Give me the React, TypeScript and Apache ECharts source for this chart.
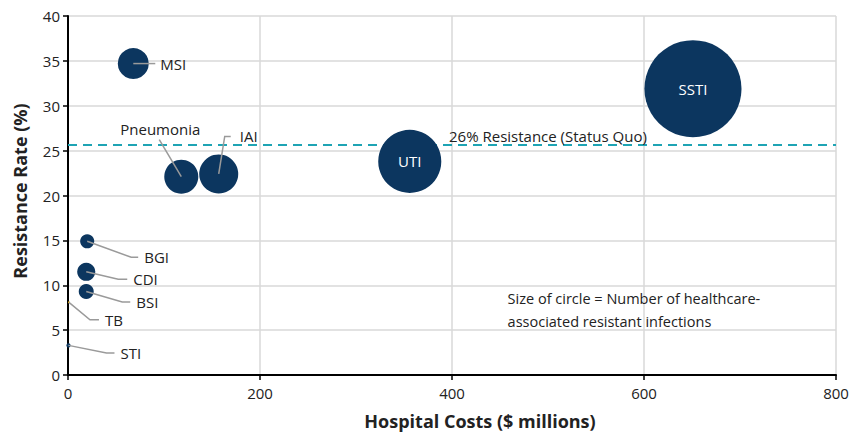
import React, { useEffect, useRef } from "react";
import * as echarts from "echarts";

// ---- data ----
const names = ["MSI", "Pneumonia", "IAI", "UTI", "SSTI", "BGI", "CDI", "BSI", "TB", "STI"];
const hospitalCosts = [68, 118, 157, 356, 651, 20, 19, 19, 1, 0.5];
const resistanceRates = [34.7, 22.1, 22.4, 23.8, 31.9, 14.9, 11.5, 9.3, 8.1, 3.3];
// number of healthcare-associated resistant infections (thousands, estimated)
const infections = [11.1, 13.4, 17.6, 46, 109, 2.3, 3.8, 2.6, 0.05, 0.2];
const statusQuoRate = 25.7;
const statusQuoLabel = "26% Resistance (Status Quo)";
const xTicks = [0, 200, 400, 600, 800];
const yTicks = [0, 5, 10, 15, 20, 25, 30, 35, 40];
const noteLines = ["Size of circle = Number of healthcare-", "associated resistant infections"];
const xTitle = "Hospital Costs ($ millions)";
const yTitle = "Resistance Rate (%)";

// ---- styles ----
const NAVY = "#0c365f";
const TB_COLOR = "#e9ab00";
const TEAL = "#1ea4b4";
const LEADER = "#9a9a9a";
const FONT = "'Open Sans', 'Noto Sans', sans-serif";
const insideLabel: Record<string, boolean> = { UTI: true, SSTI: true };
// leader line pixel offsets relative to bubble center, and label anchor
const leaders: Record<string, { pts: number[][]; tx: number; ty: number; align: string }> = {
  MSI: { pts: [[0, 0], [22, 0]], tx: 27, ty: 0, align: "left" },
  Pneumonia: { pts: [[0, 0], [-22, -37]], tx: -21, ty: -48, align: "center" },
  IAI: { pts: [[0, 0], [6, -37.5], [12, -37.5]], tx: 21, ty: -37.5, align: "left" },
  BGI: { pts: [[0, 0], [44, 16], [51, 16]], tx: 57, ty: 16, align: "left" },
  CDI: { pts: [[0, 0], [32, 7.5], [41, 7.5]], tx: 47, ty: 7.5, align: "left" },
  BSI: { pts: [[0, 0], [36, 10.5], [44, 10.5]], tx: 50, ty: 10.5, align: "left" },
  TB: { pts: [[0, 0], [21, 17.5], [30, 17.5]], tx: 36, ty: 17.5, align: "left" },
  STI: { pts: [[0, 0], [38, 7.5], [46, 7.5]], tx: 52, ty: 7.5, align: "left" },
};
const sizeScale = 9.3;

export default function App() {
  const ref = useRef<HTMLDivElement>(null);
  useEffect(() => {
    if (!ref.current) return;
    const chart = echarts.init(ref.current, undefined, { renderer: "svg" });
    const data = names.map((n, i) => ({
      name: n,
      value: [hospitalCosts[i], resistanceRates[i], infections[i]],
      itemStyle: { color: n === "TB" ? TB_COLOR : NAVY, opacity: 1 },
      label: insideLabel[n]
        ? { show: true, position: "inside", formatter: n, color: "#ffffff", fontSize: 15, fontFamily: FONT }
        : { show: false },
    }));
    const option: any = {
      animation: false,
      backgroundColor: "#ffffff",
      grid: { left: 68, right: 16, top: 16, bottom: 59, containLabel: false },
      xAxis: {
        type: "value",
        min: xTicks[0],
        max: xTicks[xTicks.length - 1],
        interval: 200,
        axisLine: { show: true, onZero: false, lineStyle: { color: "#000", width: 2 } },
        axisTick: { show: true, length: 5, lineStyle: { color: "#000", width: 1.5 } },
        axisLabel: { color: "#222", fontSize: 15, fontFamily: FONT, margin: 10 },
        splitLine: { show: true, lineStyle: { color: "#d9d9d9", width: 1.5 } },
      },
      yAxis: {
        type: "value",
        min: yTicks[0],
        max: yTicks[yTicks.length - 1],
        interval: 5,
        axisLine: { show: true, onZero: false, lineStyle: { color: "#000", width: 2 } },
        axisTick: { show: true, length: 5, lineStyle: { color: "#000", width: 1.5 } },
        axisLabel: { color: "#222", fontSize: 15, fontFamily: FONT, margin: 8 },
        splitLine: { show: true, lineStyle: { color: "#d9d9d9", width: 1.5 } },
      },
      series: [
        {
          type: "scatter",
          data,
          symbol: "circle",
          symbolSize: (v: number[]) => Math.max(2, sizeScale * Math.sqrt(v[2])),
          itemStyle: { opacity: 1 },
          emphasis: { disabled: true },
          z: 3,
          markLine: {
            silent: true,
            symbol: "none",
            label: { show: false },
            lineStyle: { color: TEAL, type: [9, 6], width: 2, opacity: 1 },
            data: [{ yAxis: statusQuoRate }],
            z: 2,
          },
        },
      ],
    };
    chart.setOption(option);

    const graphics: any[] = [];
    names.forEach((n, i) => {
      const L = leaders[n];
      if (!L) return;
      const [cx, cy] = chart.convertToPixel({ gridIndex: 0 } as any, [hospitalCosts[i], resistanceRates[i]]) as number[];
      graphics.push({
        type: "polyline",
        shape: { points: L.pts.map((p) => [cx + p[0], cy + p[1]]) },
        style: { stroke: LEADER, lineWidth: 1.5, fill: null },
        z: 10,
      });
      graphics.push({
        type: "text",
        x: cx + L.tx,
        y: cy + L.ty,
        style: { text: n, fill: "#222", font: `15px ${FONT}`, align: L.align, verticalAlign: "middle" },
        z: 10,
      });
    });
    const [refX, refY] = chart.convertToPixel({ gridIndex: 0 } as any, [400, statusQuoRate]) as number[];
    graphics.push({
      type: "text",
      x: refX - 3,
      y: refY - 1,
      style: { text: statusQuoLabel, fill: "#222", font: `15px ${FONT}`, align: "left", verticalAlign: "bottom" },
      z: 10,
    });
    const [nx, ny] = chart.convertToPixel({ gridIndex: 0 } as any, [460, 9]) as number[];
    noteLines.forEach((t, k) => {
      graphics.push({
        type: "text",
        x: nx - 2,
        y: ny + 4 + k * 23,
        style: { text: t, fill: "#222", font: `14.5px ${FONT}`, align: "left", verticalAlign: "middle" },
        z: 10,
      });
    });
    graphics.push({
      type: "text",
      x: 480,
      y: 421,
      style: { text: xTitle, fill: "#222", font: `bold 18px ${FONT}`, align: "center", verticalAlign: "middle" },
    });
    graphics.push({
      type: "text",
      x: 20,
      y: 191,
      rotation: Math.PI / 2,
      style: { text: yTitle, fill: "#222", font: `bold 18px ${FONT}`, align: "center", verticalAlign: "middle" },
    });
    chart.setOption({ graphic: graphics });

    return () => chart.dispose();
  }, []);
  return <div ref={ref} style={{ width: 852, height: 434, position: "absolute", left: 0, top: 0 }} />;
}
